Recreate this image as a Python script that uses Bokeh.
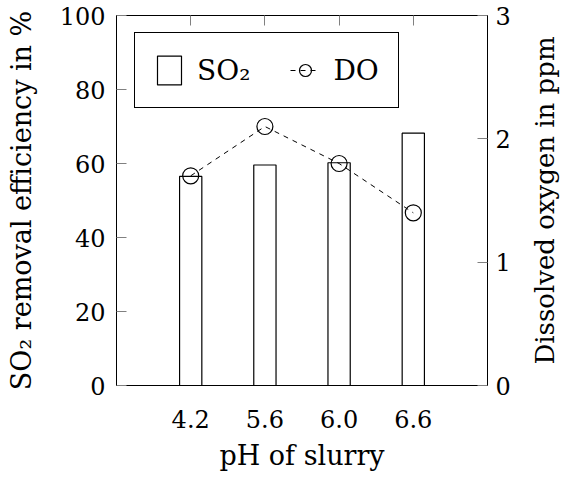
from bokeh.plotting import figure
from bokeh.layouts import row
from bokeh.models import Range1d, LinearAxis, FixedTicker, Legend, LegendItem, ColumnDataSource
from bokeh.embed import file_html
from bokeh.resources import INLINE

categories = ["4.2", "5.6", "6.0", "6.6"]
so2_efficiency = [56.5, 59.6, 60.2, 68.2]
dissolved_oxygen = [1.7, 2.1, 1.8, 1.4]
left_ticks = [0, 20, 40, 60, 80, 100]
right_ticks = [0, 1, 2, 3]

xs = list(range(1, len(categories) + 1))
src = ColumnDataSource(dict(x=xs, so2=so2_efficiency, do=dissolved_oxygen))

FONT = "DejaVu Serif"
TICK_SIZE = "24px"
LABEL_SIZE = "27px"
TOP, BOTTOM = 15, 87

p = figure(width=527, height=473, output_backend="svg", toolbar_location=None,
           x_range=Range1d(0, 5), y_range=Range1d(0, 100),
           min_border_left=116, min_border_right=40, min_border_top=TOP, min_border_bottom=BOTTOM,
           x_axis_location=None, y_axis_location=None)
p.extra_y_ranges = {"do": Range1d(0, 3)}
p.xgrid.visible = False
p.ygrid.visible = False
p.outline_line_color = "black"
p.outline_line_width = 1
p.background_fill_color = "white"
p.border_fill_color = "white"

def style(ax):
    ax.major_label_text_font = FONT
    ax.major_label_text_font_size = TICK_SIZE
    ax.major_label_text_color = "black"
    ax.major_label_text_line_height = 1.0
    ax.axis_label_text_font = FONT
    ax.axis_label_text_font_size = LABEL_SIZE
    ax.axis_label_text_font_style = "normal"
    ax.axis_label_text_color = "black"
    ax.axis_label_text_line_height = 1.0
    ax.axis_line_color = "black"
    ax.major_tick_line_color = "#808080"
    ax.major_tick_in = 10
    ax.major_tick_out = 0
    ax.minor_tick_line_color = None

# bottom axis
xb = LinearAxis(ticker=FixedTicker(ticks=xs), axis_label="pH of slurry")
style(xb)
xb.major_label_overrides = {x: c for x, c in zip(xs, categories)}
xb.major_tick_in = 0
xb.major_label_standoff = 24
xb.axis_label_standoff = 9
p.add_layout(xb, "below")

# top axis (ticks only)
xt = LinearAxis(ticker=FixedTicker(ticks=xs))
style(xt)
xt.major_label_overrides = {x: "" for x in xs}
xt.major_label_text_font_size = "0px"
xt.major_label_standoff = 0
p.add_layout(xt, "above")

# left axis
yl = LinearAxis(ticker=FixedTicker(ticks=left_ticks), axis_label="SO₂ removal efficiency in %")
style(yl)
yl.major_label_standoff = 11
yl.axis_label_standoff = 20
p.add_layout(yl, "left")

# right axis (ticks and numbers)
yr = LinearAxis(y_range_name="do", ticker=FixedTicker(ticks=right_ticks))
style(yr)
yr.major_label_standoff = 8
p.add_layout(yr, "right")

bars = p.vbar(x="x", top="so2", width=0.3, bottom=0, source=src,
              fill_color="white", line_color="black", line_width=1.2)
ln = p.line(x="x", y="do", source=src, y_range_name="do",
            line_color="black", line_width=1, line_dash="5 5")
pts = p.scatter(x="x", y="do", source=src, y_range_name="do", size=16,
                fill_alpha=0, line_color="black", line_width=1.2, marker="circle")

legend = Legend(items=[LegendItem(label="SO₂", renderers=[bars]),
                       LegendItem(label="DO", renderers=[ln, pts])],
                orientation="horizontal", location=(18, 277))
legend.label_text_font = FONT
legend.label_text_font_size = "28px"
legend.label_text_color = "black"
legend.border_line_color = "black"
legend.border_line_width = 1
legend.border_line_alpha = 1
legend.background_fill_alpha = 1
legend.padding = 19
legend.glyph_width = 30
legend.glyph_height = 36
legend.label_height = 36
legend.label_standoff = 13
legend.spacing = 40
legend.margin = 0
p.add_layout(legend, "center")

# narrow companion figure carrying the right-hand axis title (reads bottom to top)
q = figure(width=32, height=473, output_backend="svg", toolbar_location=None,
           x_range=Range1d(0, 1), y_range=Range1d(0, 1),
           min_border_left=31, min_border_right=0, min_border_top=TOP, min_border_bottom=BOTTOM,
           x_axis_location=None, y_axis_location=None)
q.xgrid.visible = False
q.ygrid.visible = False
q.outline_line_color = None
q.background_fill_color = None
q.border_fill_color = "white"
qa = LinearAxis(ticker=FixedTicker(ticks=[]), axis_label="Dissolved oxygen in ppm")
qa.axis_label_text_font = FONT
qa.axis_label_text_font_size = "26px"
qa.axis_label_text_font_style = "normal"
qa.axis_label_text_color = "black"
qa.axis_label_text_line_height = 1.0
qa.axis_label_standoff = 0
qa.axis_line_color = None
qa.major_tick_line_color = None
qa.minor_tick_line_color = None
qa.major_label_text_font_size = "0px"
qa.major_label_standoff = 0
qa.major_tick_in = 0
qa.major_tick_out = 0
q.add_layout(qa, "left")

layout = row(p, q, spacing=0)
open("out.html", "w").write(file_html(layout, INLINE))
